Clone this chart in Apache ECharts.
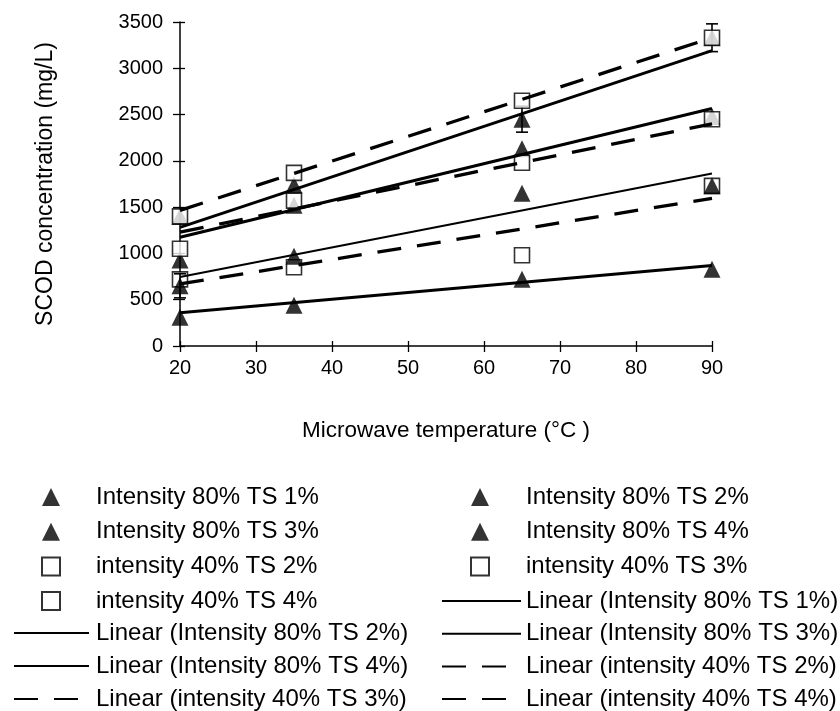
<!DOCTYPE html>
<html><head><meta charset="utf-8">
<script src="https://cdn.jsdelivr.net/npm/echarts@6/dist/echarts.min.js"></script>
<style>html,body{margin:0;padding:0;background:#fff}#c{width:840px;height:711px}</style>
</head><body><div id="c"></div>
<script>
// ---- data ----
const temperatures = [20, 35, 65, 90];
const i80ts1 = [310, 440, 720, 830];
const i80ts2 = [650, 970, 1650, 1730];
const i80ts3 = [930, 1520, 2130, 2480];
const i80ts4 = [1400, 1740, 2450, 3330];
const i40ts2 = [720, 850, 980, 1730];
const i40ts3 = [1050, 1570, 1980, 2450];
const i40ts4 = [1400, 1870, 2650, 3330];
// error bar half-lengths (0 = none visible)
const err80ts2 = [130, 0, 0, 0];
const err80ts4 = [0, 0, 140, 0];
const err40ts4 = [0, 0, 0, 150];
// trendline values at the ends of the x range
const trendX = [20, 90];
const trend80ts1 = [360, 870];
const trend80ts2 = [745, 1864];
const trend80ts3 = [1175, 2565];
const trend80ts4 = [1282, 3190];
const trend40ts2 = [670, 1595];
const trend40ts3 = [1230, 2400];
const trend40ts4 = [1465, 3330];
const names = {
  a1: 'Intensity 80% TS 1%', a2: 'Intensity 80% TS 2%', a3: 'Intensity 80% TS 3%', a4: 'Intensity 80% TS 4%',
  b2: 'intensity 40% TS 2%', b3: 'intensity 40% TS 3%', b4: 'intensity 40% TS 4%'
};

const FONT = "'Liberation Sans', Arial, sans-serif";
const pts = v => temperatures.map((t, i) => [t, v[i]]);
const errPts = (v, e) => temperatures.map((t, i) => [t, v[i], e[i]]).filter(d => d[2] > 0);
const trend = v => trendX.map((t, i) => [t, v[i]]);

function tri(name, v, z) {
  return { type: 'scatter', name, data: pts(v), symbol: 'triangle', symbolSize: 17, z,
    itemStyle: { color: '#000' } };
}
function sq(name, v) {
  return { type: 'scatter', name, data: pts(v), symbol: 'rect', symbolSize: 15, z: 3,
    itemStyle: { color: '#fff', borderColor: '#000', borderWidth: 1.6 } };
}
function tl(name, v, width, dashed) {
  return { type: 'line', name: 'Linear (' + name + ')', data: trend(v), symbol: 'none', showSymbol: false, z: 5,
    lineStyle: { color: '#000', width, type: dashed ? [24, 16] : 'solid' }, itemStyle: { color: '#000' } };
}
function eb(v, e) {
  return { type: 'custom', z: 2, data: errPts(v, e), encode: { x: 0, y: 1 },
    renderItem: (params, api) => {
      const x = api.value(0), y = api.value(1), d = api.value(2);
      const p1 = api.coord([x, y + d]), p2 = api.coord([x, y - d]), w = 6;
      const st = { stroke: '#000', lineWidth: 1.6 };
      return { type: 'group', children: [
        { type: 'line', shape: { x1: p1[0], y1: p1[1], x2: p2[0], y2: p2[1] }, style: st },
        { type: 'line', shape: { x1: p1[0] - w, y1: p1[1], x2: p1[0] + w, y2: p1[1] }, style: st },
        { type: 'line', shape: { x1: p2[0] - w, y1: p2[1], x2: p2[0] + w, y2: p2[1] }, style: st }
      ] };
    } };
}

const legText = pad => ({ fontFamily: FONT, fontSize: 24, color: '#000', padding: [0, 0, 0, pad] });
const axisCommon = { axisLine: { show: true, lineStyle: { color: '#000', width: 1.5 } }, splitLine: { show: false } };
const plain = v => String(v);

const option = {
  backgroundColor: '#fff',
  animation: false,
  grid: { left: 180, right: 128, top: 22, bottom: 365 },
  xAxis: [
    Object.assign({}, axisCommon, { type: 'value', min: 20, max: 90, interval: 10, position: 'bottom',
      axisTick: { show: true, inside: false, length: 6, lineStyle: { color: '#000', width: 1.3 } },
      axisLabel: { fontFamily: FONT, fontSize: 20, color: '#000', margin: 12, formatter: plain },
      name: 'Microwave temperature (°C )', nameLocation: 'middle', nameGap: 73,
      nameTextStyle: { fontFamily: FONT, fontSize: 22.5, color: '#000' } }),
    { type: 'value', min: 20, max: 90, interval: 10, position: 'bottom', axisLine: { show: false },
      axisTick: { show: true, inside: true, length: 5, lineStyle: { color: '#000', width: 1.3 } },
      axisLabel: { show: false }, splitLine: { show: false } }
  ],
  yAxis: [
    Object.assign({}, axisCommon, { type: 'value', min: 0, max: 3500, interval: 500, position: 'left',
      axisTick: { show: true, inside: false, length: 7, lineStyle: { color: '#000', width: 1.3 } },
      axisLabel: { fontFamily: FONT, fontSize: 20, color: '#000', margin: 17, formatter: plain },
      name: 'SCOD concentration (mg/L)', nameLocation: 'middle', nameGap: 123,
      nameTextStyle: { fontFamily: FONT, fontSize: 23, color: '#000' } }),
    { type: 'value', min: 0, max: 3500, interval: 500, position: 'left', axisLine: { show: false },
      axisTick: { show: true, inside: true, length: 5, lineStyle: { color: '#000', width: 1.3 } },
      axisLabel: { show: false }, splitLine: { show: false } }
  ],
  legend: [
    { orient: 'vertical', left: 41, top: 485, height: 220, padding: 0, itemWidth: 18, itemHeight: 18, itemGap: 10.7,
      data: [names.a1, names.a3, names.b2, names.b4], textStyle: legText(31), selectedMode: false },
    { orient: 'vertical', left: 470, top: 485, height: 220, padding: 0, itemWidth: 18, itemHeight: 18, itemGap: 10.7,
      data: [names.a2, names.a4, names.b3], textStyle: legText(32), selectedMode: false },
    { orient: 'vertical', left: 13, top: 621, height: 220, padding: 0, itemWidth: 75, itemHeight: 14, itemGap: 9,
      data: ['Linear (' + names.a2 + ')', 'Linear (' + names.a4 + ')', 'Linear (' + names.b3 + ')'],
      itemStyle: { opacity: 0 }, textStyle: legText(2), selectedMode: false },
    { orient: 'vertical', left: 441, top: 589, height: 220, padding: 0, itemWidth: 79, itemHeight: 14, itemGap: 8.7,
      data: ['Linear (' + names.a1 + ')', 'Linear (' + names.a3 + ')', 'Linear (' + names.b2 + ')', 'Linear (' + names.b4 + ')'],
      itemStyle: { opacity: 0 }, textStyle: legText(0), selectedMode: false }
  ],
  series: [
    eb(i80ts4, err80ts4),
    eb(i40ts4, err40ts4),
    tri(names.a1, i80ts1, 2),
    tri(names.a3, i80ts3, 2),
    tri(names.a4, i80ts4, 2),
    sq(names.b2, i40ts2),
    sq(names.b3, i40ts3),
    sq(names.b4, i40ts4),
    Object.assign(eb(i80ts2, err80ts2), { z: 4 }),
    tri(names.a2, i80ts2, 4),
    tl(names.a1, trend80ts1, 3, false),
    tl(names.a2, trend80ts2, 2, false),
    tl(names.a3, trend80ts3, 3, false),
    tl(names.a4, trend80ts4, 3, false),
    tl(names.b2, trend40ts2, 3.3, true),
    tl(names.b3, trend40ts3, 3.3, true),
    tl(names.b4, trend40ts4, 3.3, true)
  ]
};
echarts.init(document.getElementById('c'), null, { renderer: 'canvas' }).setOption(option);
</script></body></html>
